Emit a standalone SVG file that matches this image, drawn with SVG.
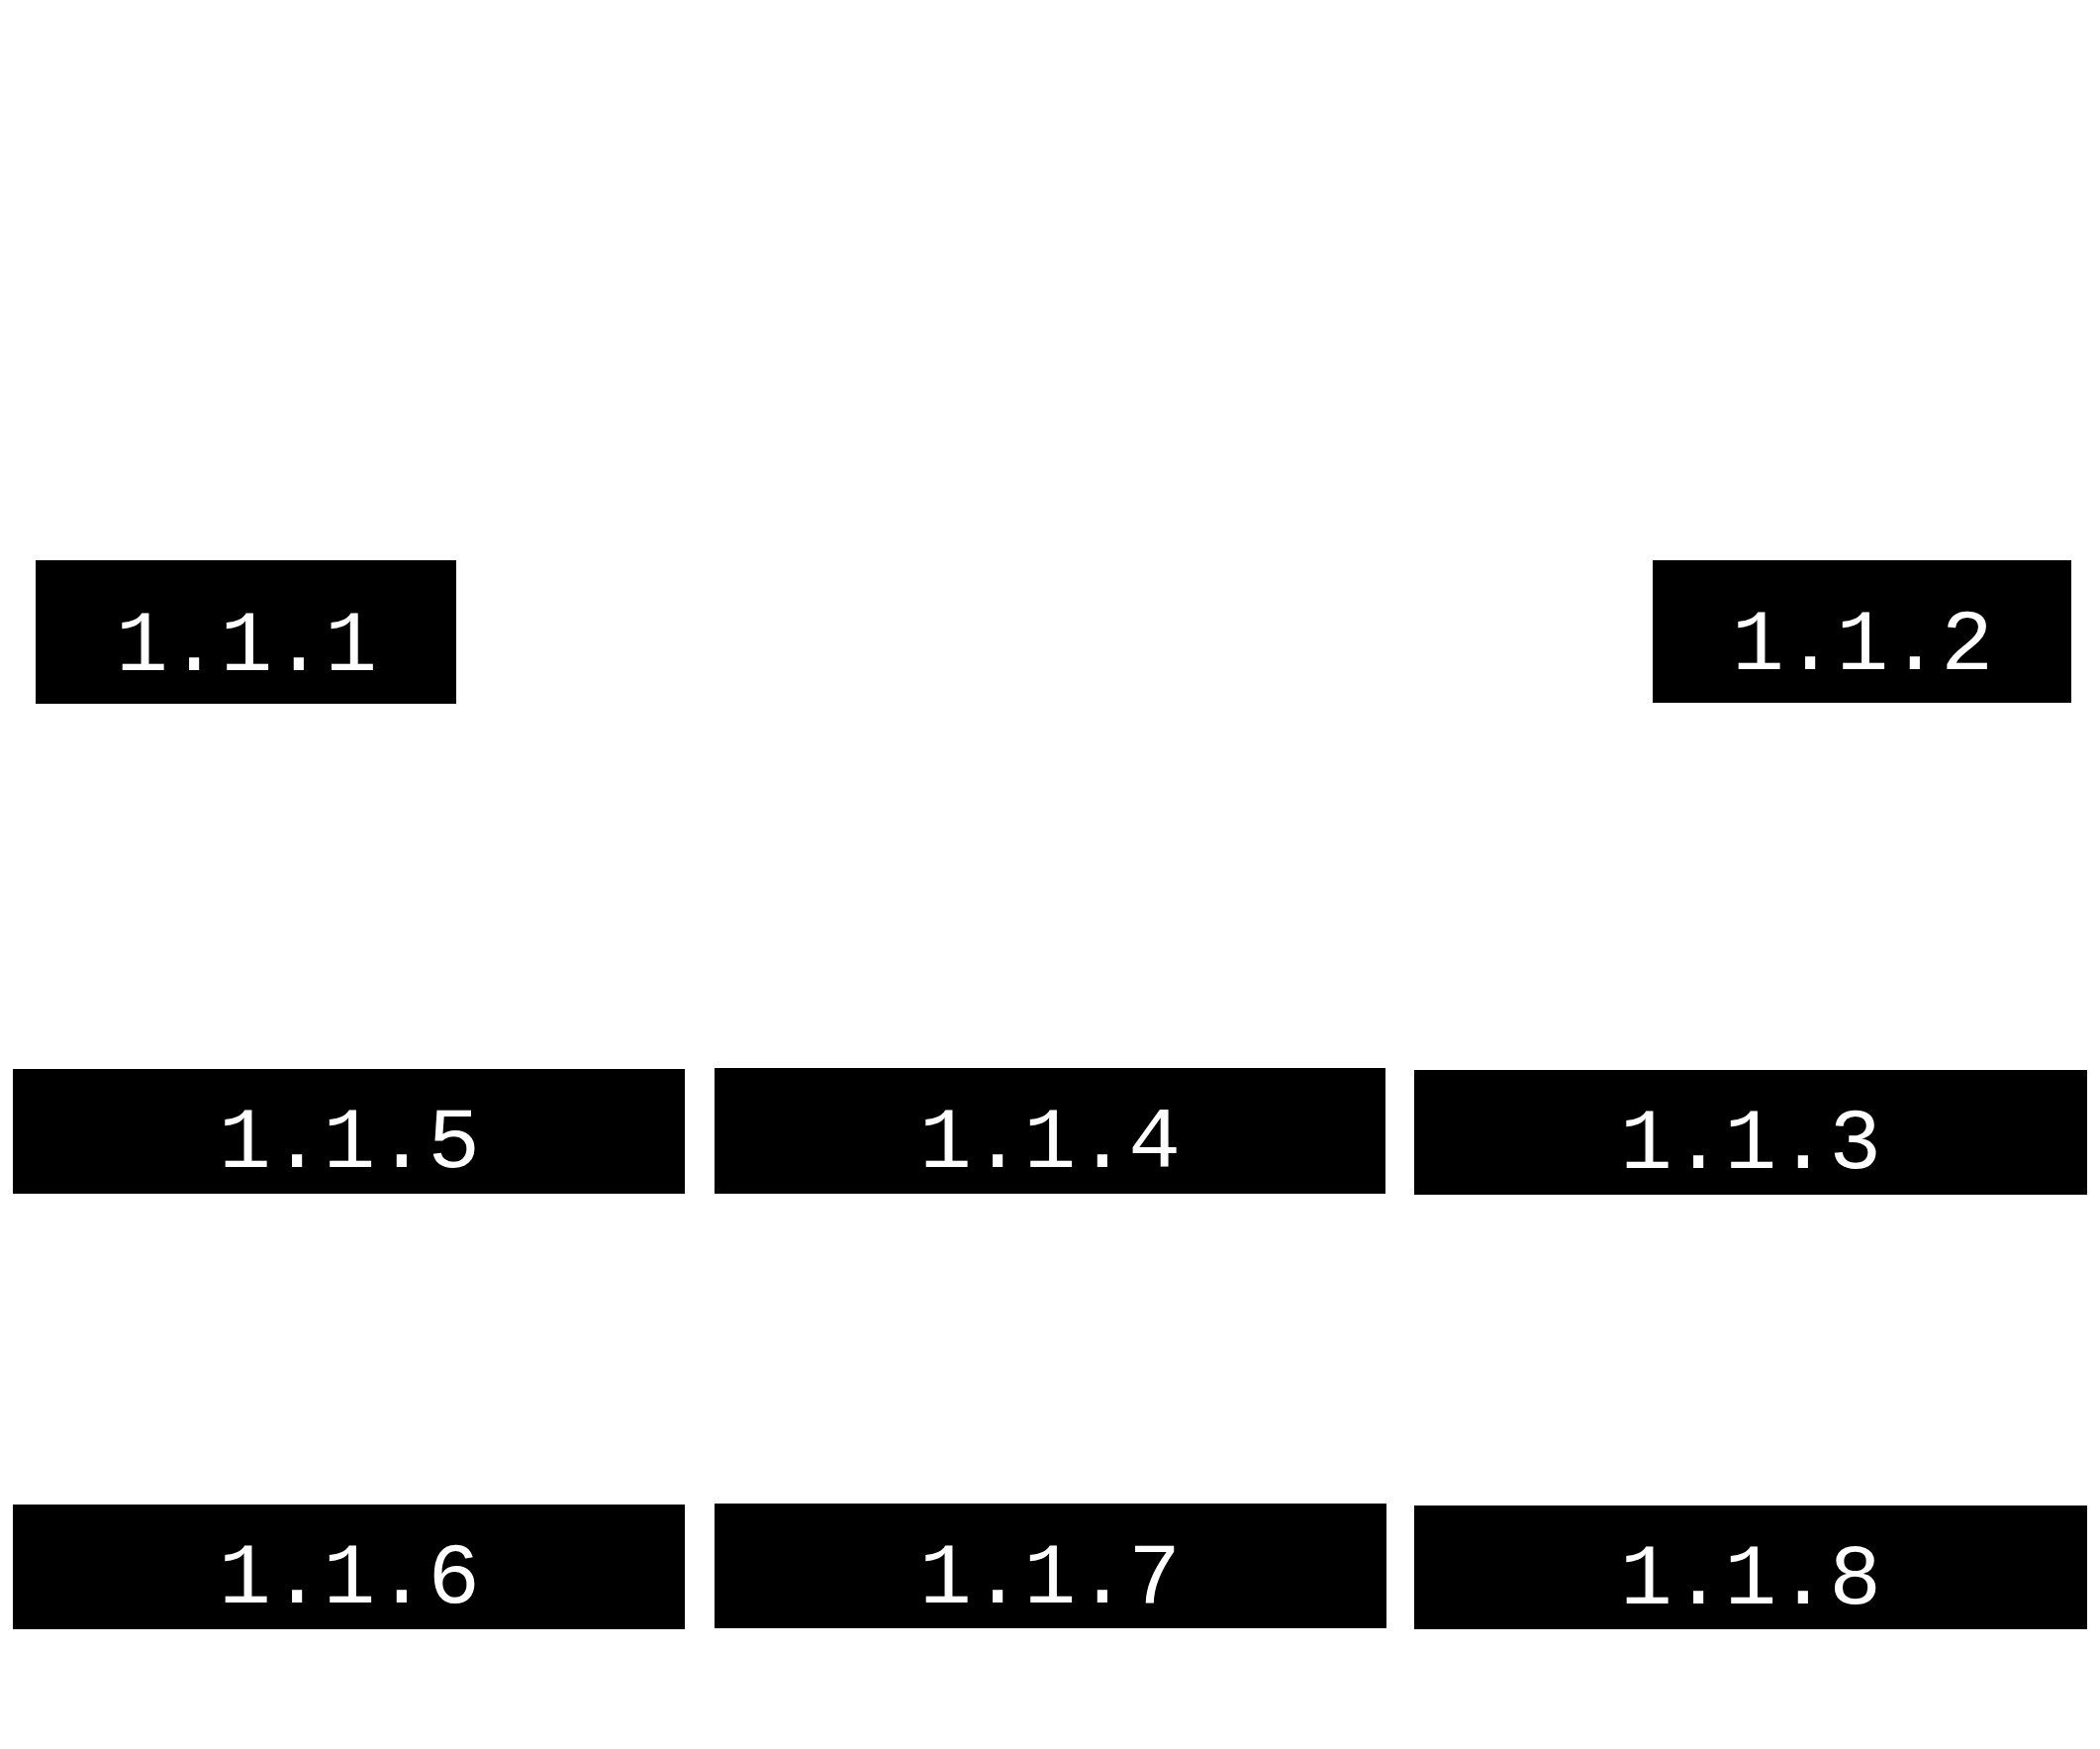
<svg xmlns="http://www.w3.org/2000/svg" width="2122" height="1767" viewBox="0 0 2122 1767">
<style>
.box{fill:#000;stroke:none}
.lbl{fill:#fff;font-family:"Liberation Mono","DejaVu Sans Mono",monospace;font-size:88px;text-anchor:middle}
</style>
<rect width="2122" height="1767" fill="#fff"/>
<g id="connectors"></g>
<g id="n111"><rect class="box" x="36" y="566" width="425" height="145"/><text class="lbl" x="249" y="677">1.1.1</text></g>
<g id="n112"><rect class="box" x="1670" y="566" width="423" height="144"/><text class="lbl" x="1882" y="676">1.1.2</text></g>
<g id="n115"><rect class="box" x="13" y="1080" width="679" height="126"/><text class="lbl" x="353" y="1179">1.1.5</text></g>
<g id="n114"><rect class="box" x="722" y="1079" width="678" height="127"/><text class="lbl" x="1061" y="1179">1.1.4</text></g>
<g id="n113"><rect class="box" x="1429" y="1081" width="680" height="126"/><text class="lbl" x="1769" y="1180">1.1.3</text></g>
<g id="n116"><rect class="box" x="13" y="1520" width="679" height="126"/><text class="lbl" x="353" y="1619">1.1.6</text></g>
<g id="n117"><rect class="box" x="722" y="1519" width="679" height="126"/><text class="lbl" x="1061" y="1619">1.1.7</text></g>
<g id="n118"><rect class="box" x="1429" y="1521" width="680" height="125"/><text class="lbl" x="1769" y="1620">1.1.8</text></g>
</svg>
